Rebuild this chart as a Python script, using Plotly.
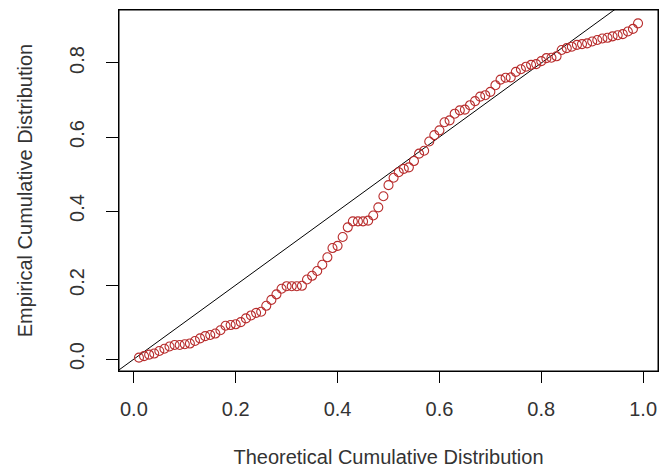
import plotly.graph_objects as go

# Theoretical cumulative distribution (x) and empirical cumulative distribution (y)
theoretical = [round(0.01 * i, 2) for i in range(1, 100)]
empirical = [
    0.004, 0.008, 0.012, 0.015, 0.022, 0.028, 0.034, 0.038, 0.038, 0.040,
    0.042, 0.049, 0.056, 0.062, 0.065, 0.069, 0.078, 0.090, 0.092, 0.094,
    0.100, 0.110, 0.118, 0.125, 0.128, 0.144, 0.160, 0.175, 0.190, 0.197,
    0.197, 0.197, 0.198, 0.215, 0.225, 0.238, 0.255, 0.275, 0.300, 0.306,
    0.330, 0.356, 0.372, 0.372, 0.372, 0.374, 0.388, 0.410, 0.440, 0.470,
    0.490, 0.505, 0.514, 0.518, 0.535, 0.555, 0.563, 0.588, 0.605, 0.618,
    0.640, 0.645, 0.663, 0.672, 0.674, 0.686, 0.697, 0.709, 0.713, 0.722,
    0.740, 0.755, 0.760, 0.761, 0.776, 0.783, 0.790, 0.795, 0.797, 0.805,
    0.813, 0.814, 0.818, 0.835, 0.840, 0.844, 0.849, 0.851, 0.853, 0.858,
    0.862, 0.866, 0.868, 0.872, 0.875, 0.878, 0.885, 0.892, 0.907,
]
ref_line = [-0.1, 1.1]  # identity line y = x
x_ticks = [0.0, 0.2, 0.4, 0.6, 0.8, 1.0]
y_ticks = [0.0, 0.2, 0.4, 0.6, 0.8]
x_tick_text = ["0.0", "0.2", "0.4", "0.6", "0.8", "1.0"]
y_tick_text = ["0.0", "0.2", "0.4", "0.6", "0.8"]

FONT = "Liberation Sans, Arial, sans-serif"
TXT = "#333333"
RED = "#b82c2c"

fig = go.Figure()
fig.add_trace(go.Scatter(
    x=ref_line, y=ref_line, mode="lines",
    line=dict(color="black", width=1), hoverinfo="skip", showlegend=False,
))
fig.add_trace(go.Scatter(
    x=theoretical, y=empirical, mode="markers",
    marker=dict(symbol="circle-open", size=9, color=RED,
                line=dict(width=1.1, color=RED)),
    showlegend=False,
))

def span(vals):
    lo, hi = min(vals), max(vals)
    d = (hi - lo) * 0.04
    return [lo - d, hi + d]

fig.update_layout(
    width=662, height=475,
    margin=dict(l=119, r=4, t=10, b=104),
    paper_bgcolor="white", plot_bgcolor="white",
    font=dict(family=FONT, size=20, color=TXT),
    shapes=[dict(type="rect", xref="x domain", yref="y domain",
                 x0=0, x1=1, y0=0, y1=1, line=dict(color="black", width=1),
                 fillcolor="rgba(0,0,0,0)", layer="above")],
    xaxis=dict(
        range=span(theoretical), tickvals=x_ticks, ticktext=x_tick_text,
        showgrid=False, zeroline=False, showline=True, mirror=True,
        linecolor="black", linewidth=1,
        ticks="outside", ticklen=11, tickcolor="black", tickwidth=1,
        ticklabelstandoff=9,
        title=dict(text="Theoretical Cumulative Distribution",
                   font=dict(size=20, color=TXT), standoff=30),
    ),
    yaxis=dict(
        range=span(empirical), tickvals=y_ticks, ticktext=y_tick_text,
        tickangle=-90,
        showgrid=False, zeroline=False, showline=True, mirror=True,
        linecolor="black", linewidth=1,
        ticks="outside", ticklen=12, tickcolor="black", tickwidth=1,
        ticklabelstandoff=14,
        title=dict(text="Empirical Cumulative Distribution",
                   font=dict(size=20, color=TXT), standoff=28),
    ),
)

fig.write_html(
    "out.html",
    config={"displayModeBar": False},
    post_script="document.body.style.margin='0';document.body.style.overflow='hidden';",
)
